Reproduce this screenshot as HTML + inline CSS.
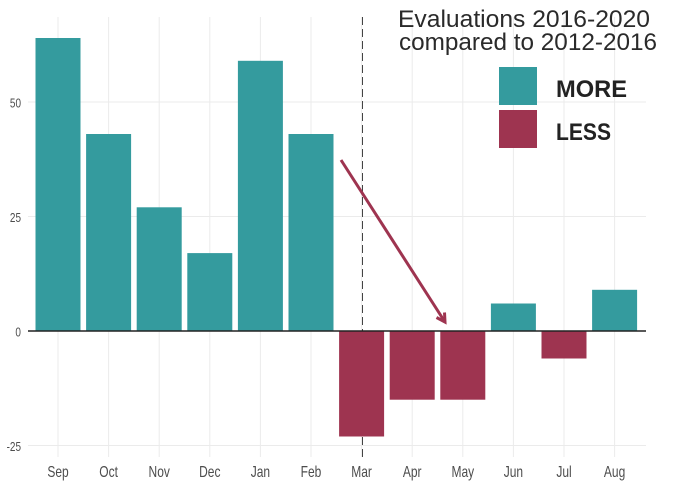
<!DOCTYPE html>
<html>
<head>
<meta charset="utf-8">
<style>
html,body{margin:0;padding:0;background:#fff;}
svg{display:block;}
</style>
</head>
<body>
<svg width="675" height="489" viewBox="0 0 675 489" xmlns="http://www.w3.org/2000/svg" font-family="Liberation Sans, sans-serif">
  <rect x="0" y="0" width="675" height="489" fill="#fff"/>
  <!-- vertical gridlines -->
  <g stroke="#ebebeb" stroke-width="1">
    <line x1="58" y1="17" x2="58" y2="457"/>
    <line x1="108.6" y1="17" x2="108.6" y2="457"/>
    <line x1="159.2" y1="17" x2="159.2" y2="457"/>
    <line x1="209.8" y1="17" x2="209.8" y2="457"/>
    <line x1="260.4" y1="17" x2="260.4" y2="457"/>
    <line x1="311" y1="17" x2="311" y2="457"/>
    <line x1="361.6" y1="17" x2="361.6" y2="457"/>
    <line x1="412.2" y1="17" x2="412.2" y2="457"/>
    <line x1="462.8" y1="17" x2="462.8" y2="457"/>
    <line x1="513.4" y1="17" x2="513.4" y2="457"/>
    <line x1="564" y1="17" x2="564" y2="457"/>
    <line x1="614.6" y1="17" x2="614.6" y2="457"/>
  </g>
  <!-- horizontal gridlines -->
  <g stroke="#ebebeb" stroke-width="1">
    <line x1="28" y1="102" x2="646" y2="102"/>
    <line x1="28" y1="216.5" x2="646" y2="216.5"/>
    <line x1="28" y1="445.5" x2="646" y2="445.5"/>
  </g>
  <!-- dashed line (behind bars) -->
  <line x1="362.5" y1="17" x2="362.5" y2="457" stroke="#444" stroke-width="1" stroke-dasharray="8,4"/>
  <!-- bars -->
  <g fill="#349b9e">
    <rect x="35.5" y="38" width="45" height="293"/>
    <rect x="86.1" y="134" width="45" height="197"/>
    <rect x="136.7" y="207.3" width="45" height="123.7"/>
    <rect x="187.3" y="253.1" width="45" height="77.9"/>
    <rect x="237.9" y="60.8" width="45" height="270.2"/>
    <rect x="288.5" y="134" width="45" height="197"/>
    <rect x="490.9" y="303.5" width="45" height="27.5"/>
    <rect x="592.1" y="289.8" width="45" height="41.2"/>
  </g>
  <g fill="#9e3450">
    <rect x="339.1" y="331" width="45" height="105.5"/>
    <rect x="389.7" y="331" width="45" height="68.7"/>
    <rect x="440.3" y="331" width="45" height="68.7"/>
    <rect x="541.5" y="331" width="45" height="27.5"/>
  </g>
  <!-- zero line -->
  <line x1="28" y1="331" x2="646" y2="331" stroke="#222" stroke-width="1.6"/>
  <!-- arrow -->
  <g stroke="#9e3450" stroke-width="3" fill="none" stroke-linecap="butt">
    <line x1="341" y1="160" x2="444" y2="320.5"/>
    <polyline points="436.5,317.5 445,322 444.5,312.5"/>
  </g>
  <!-- y labels -->
  <g fill="#4d4d4d" font-size="10" text-anchor="end">
    <text transform="translate(21,107.3) scale(1,1.25)">50</text>
    <text transform="translate(21,221.8) scale(1,1.25)">25</text>
    <text transform="translate(21,336.5) scale(1,1.25)">0</text>
    <text transform="translate(21,451) scale(1,1.25)">-25</text>
  </g>
  <!-- x labels -->
  <g fill="#4d4d4d" font-size="12" text-anchor="middle">
    <text transform="translate(58,477) scale(1,1.28)">Sep</text>
    <text transform="translate(108.6,477) scale(1,1.28)">Oct</text>
    <text transform="translate(159.2,477) scale(1,1.28)">Nov</text>
    <text transform="translate(209.8,477) scale(1,1.28)">Dec</text>
    <text transform="translate(260.4,477) scale(1,1.28)">Jan</text>
    <text transform="translate(311,477) scale(1,1.28)">Feb</text>
    <text transform="translate(361.6,477) scale(1,1.28)">Mar</text>
    <text transform="translate(412.2,477) scale(1,1.28)">Apr</text>
    <text transform="translate(462.8,477) scale(1,1.28)">May</text>
    <text transform="translate(513.4,477) scale(1,1.28)">Jun</text>
    <text transform="translate(564,477) scale(1,1.28)">Jul</text>
    <text transform="translate(614.6,477) scale(1,1.28)">Aug</text>
  </g>
  <!-- legend title -->
  <g fill="#2a2a2a" font-size="20">
    <text transform="translate(398,27) scale(1,1.2)" textLength="252" lengthAdjust="spacingAndGlyphs">Evaluations 2016-2020</text>
    <text transform="translate(399,50) scale(1,1.2)" textLength="258" lengthAdjust="spacingAndGlyphs">compared to 2012-2016</text>
  </g>
  <!-- legend keys -->
  <rect x="499" y="67" width="38" height="38" fill="#349b9e"/>
  <rect x="499" y="110" width="38" height="38" fill="#9e3450"/>
  <g fill="#222" font-size="20" font-weight="bold">
    <text transform="translate(556,97) scale(1,1.2)" textLength="71" lengthAdjust="spacingAndGlyphs">MORE</text>
    <text transform="translate(556,140) scale(1,1.2)" textLength="55" lengthAdjust="spacingAndGlyphs">LESS</text>
  </g>
</svg>
</body>
</html>
